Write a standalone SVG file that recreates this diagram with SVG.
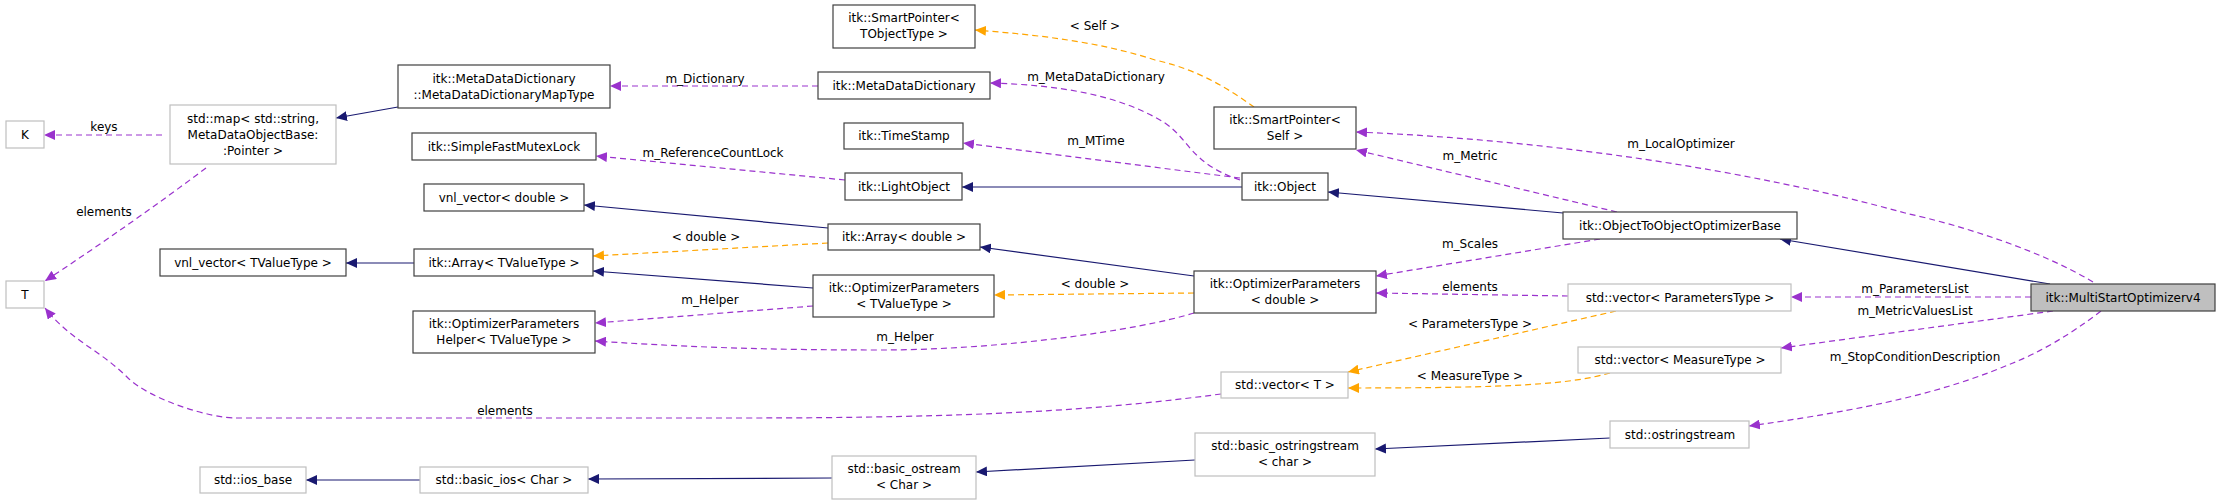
<svg xmlns="http://www.w3.org/2000/svg" width="2221" height="504" viewBox="0 0 2221 504">
<style>
text{font-family:"DejaVu Sans","Liberation Sans",sans-serif;font-size:12px;fill:#000;text-anchor:middle}
.n rect{fill:#fff;stroke:#404040;stroke-width:1.2}
.g rect{fill:#fff;stroke:#bfbfbf;stroke-width:1.2}
.hl rect{fill:#bfbfbf;stroke:#404040;stroke-width:1.2}
.inh{fill:none;stroke:#191970;stroke-width:1.2}
.use{fill:none;stroke:#9a32cd;stroke-width:1.2;stroke-dasharray:6,4}
.tpl{fill:none;stroke:#ffa500;stroke-width:1.2;stroke-dasharray:6,4}
</style>
<defs>
<marker id="ab" markerUnits="userSpaceOnUse" markerWidth="12" markerHeight="10" refX="11" refY="5" orient="auto"><path d="M0,0L11,5L0,10z" fill="#191970"/></marker>
<marker id="ap" markerUnits="userSpaceOnUse" markerWidth="12" markerHeight="10" refX="11" refY="5" orient="auto"><path d="M0,0L11,5L0,10z" fill="#9a32cd"/></marker>
<marker id="ao" markerUnits="userSpaceOnUse" markerWidth="12" markerHeight="10" refX="11" refY="5" orient="auto"><path d="M0,0L11,5L0,10z" fill="#ffa500"/></marker>
</defs>
<g id="edges">
<path class="inh" marker-end="url(#ab)" d="M398,107L336,118"/>
<path class="use" marker-end="url(#ap)" d="M162,135L44,135"/><text x="104" y="131">keys</text>
<path class="use" marker-end="url(#ap)" d="M206,168Q130,225 45,281"/><text x="104" y="216">elements</text>
<path class="use" marker-end="url(#ap)" d="M818,86L610,86"/><text x="705" y="83">m_Dictionary</text>
<path class="use" marker-end="url(#ap)" d="M1240,180C1190,163 1190,140 1165,123C1120,95 1060,85 990,83"/><text x="1096" y="81">m_MetaDataDictionary</text>
<path class="use" marker-end="url(#ap)" d="M1240,178L963,143"/><text x="1096" y="145">m_MTime</text>
<path class="use" marker-end="url(#ap)" d="M845,180L596,156"/><text x="713" y="157">m_ReferenceCountLock</text>
<path class="inh" marker-end="url(#ab)" d="M1242,187L962,187"/>
<path class="inh" marker-end="url(#ab)" d="M1563,213L1328,192"/>
<path class="use" marker-end="url(#ap)" d="M1617,212L1356,150"/><text x="1470" y="160">m_Metric</text>
<path class="use" marker-end="url(#ap)" d="M2093,282C2040,250 1960,225 1905,213C1750,170 1550,140 1356,132"/><text x="1681" y="148">m_LocalOptimizer</text>
<path class="tpl" marker-end="url(#ao)" d="M1254,107C1230,90 1200,70 1155,60C1100,42 1040,35 975,30"/><text x="1095" y="30">&lt; Self &gt;</text>
<path class="inh" marker-end="url(#ab)" d="M828,228L584,205"/>
<path class="tpl" marker-end="url(#ao)" d="M828,243L593,256"/><text x="706" y="241">&lt; double &gt;</text>
<path class="inh" marker-end="url(#ab)" d="M414,263L346,263"/>
<path class="inh" marker-end="url(#ab)" d="M813,288L593,271"/>
<path class="use" marker-end="url(#ap)" d="M813,306L595,323"/><text x="710" y="304">m_Helper</text>
<path class="use" marker-end="url(#ap)" d="M1194,313C1140,330 1000,350 882,350C780,350 700,348 595,341"/><text x="905" y="341">m_Helper</text>
<path class="inh" marker-end="url(#ab)" d="M1194,276L980,247"/>
<path class="tpl" marker-end="url(#ao)" d="M1194,293L994,295"/><text x="1095" y="288">&lt; double &gt;</text>
<path class="use" marker-end="url(#ap)" d="M1600,239L1376,276"/><text x="1470" y="248">m_Scales</text>
<path class="use" marker-end="url(#ap)" d="M1568,296L1376,293"/><text x="1470" y="291">elements</text>
<path class="tpl" marker-end="url(#ao)" d="M1616,311L1348,372"/><text x="1470" y="328">&lt; ParametersType &gt;</text>
<path class="tpl" marker-end="url(#ao)" d="M1610,373C1570,384 1520,388 1348,388"/><text x="1470" y="380">&lt; MeasureType &gt;</text>
<path class="use" marker-end="url(#ap)" d="M1221,394C1100,410 980,418 740,418L236,418C210,418 150,400 127,377C100,350 70,340 45,308"/><text x="505" y="415">elements</text>
<path class="use" marker-end="url(#ap)" d="M2031,297L1791,297"/><text x="1915" y="293">m_ParametersList</text>
<path class="use" marker-end="url(#ap)" d="M2053,311L1781,348"/><text x="1915" y="315">m_MetricValuesList</text>
<path class="use" marker-end="url(#ap)" d="M2101,311C2070,335 2040,352 2013,363C1960,385 1900,405 1749,426"/><text x="1915" y="361">m_StopConditionDescription</text>
<path class="inh" marker-end="url(#ab)" d="M2050,284L1780,239"/>
<path class="inh" marker-end="url(#ab)" d="M1610,438L1375,449"/>
<path class="inh" marker-end="url(#ab)" d="M1195,460L976,472"/>
<path class="inh" marker-end="url(#ab)" d="M832,478L588,479"/>
<path class="inh" marker-end="url(#ab)" d="M420,480L306,480"/>
</g>
<g id="K" class="g"><rect x="6" y="121" width="38" height="27"/><text x="25" y="139">K</text></g>
<g id="T" class="g"><rect x="6" y="281" width="38" height="27"/><text x="25" y="299">T</text></g>
<g id="stdmap" class="g"><rect x="170" y="105" width="166" height="59"/><text x="253" y="123">std::map&lt; std::string,</text><text x="253" y="139">MetaDataObjectBase:</text><text x="253" y="155">:Pointer &gt;</text></g>
<g id="maptype" class="n"><rect x="398" y="65" width="212" height="43"/><text x="504" y="83">itk::MetaDataDictionary</text><text x="504" y="99">::MetaDataDictionaryMapType</text></g>
<g id="mutex" class="n"><rect x="412" y="133" width="184" height="27"/><text x="504" y="151">itk::SimpleFastMutexLock</text></g>
<g id="vnld" class="n"><rect x="424" y="184" width="160" height="27"/><text x="504" y="202">vnl_vector&lt; double &gt;</text></g>
<g id="vnlt" class="n"><rect x="160" y="249" width="186" height="27"/><text x="253" y="267">vnl_vector&lt; TValueType &gt;</text></g>
<g id="arrt" class="n"><rect x="414" y="249" width="179" height="27"/><text x="504" y="267">itk::Array&lt; TValueType &gt;</text></g>
<g id="helper" class="n"><rect x="413" y="311" width="182" height="42"/><text x="504" y="328">itk::OptimizerParameters</text><text x="504" y="344">Helper&lt; TValueType &gt;</text></g>
<g id="iosbase" class="g"><rect x="200" y="467" width="106" height="26"/><text x="253" y="484">std::ios_base</text></g>
<g id="basicios" class="g"><rect x="420" y="467" width="168" height="26"/><text x="504" y="484">std::basic_ios&lt; Char &gt;</text></g>
<g id="spto" class="n"><rect x="833" y="5" width="142" height="43"/><text x="904" y="22">itk::SmartPointer&lt;</text><text x="904" y="38">TObjectType &gt;</text></g>
<g id="mdd" class="n"><rect x="818" y="72" width="172" height="27"/><text x="904" y="90">itk::MetaDataDictionary</text></g>
<g id="ts" class="n"><rect x="844" y="123" width="119" height="26"/><text x="904" y="140">itk::TimeStamp</text></g>
<g id="lo" class="n"><rect x="845" y="173" width="117" height="27"/><text x="904" y="191">itk::LightObject</text></g>
<g id="arrd" class="n"><rect x="828" y="224" width="152" height="26"/><text x="904" y="241">itk::Array&lt; double &gt;</text></g>
<g id="opt" class="n"><rect x="813" y="275" width="181" height="42"/><text x="904" y="292">itk::OptimizerParameters</text><text x="904" y="308">&lt; TValueType &gt;</text></g>
<g id="basicostream" class="g"><rect x="832" y="456" width="144" height="43"/><text x="904" y="473">std::basic_ostream</text><text x="904" y="489">&lt; Char &gt;</text></g>
<g id="sps" class="n"><rect x="1214" y="107" width="142" height="42"/><text x="1285" y="124">itk::SmartPointer&lt;</text><text x="1285" y="140">Self &gt;</text></g>
<g id="obj" class="n"><rect x="1242" y="173" width="86" height="27"/><text x="1285" y="191">itk::Object</text></g>
<g id="optd" class="n"><rect x="1194" y="271" width="182" height="42"/><text x="1285" y="288">itk::OptimizerParameters</text><text x="1285" y="304">&lt; double &gt;</text></g>
<g id="vect" class="g"><rect x="1221" y="372" width="127" height="26"/><text x="1285" y="389">std::vector&lt; T &gt;</text></g>
<g id="bostr" class="g"><rect x="1195" y="433" width="180" height="43"/><text x="1285" y="450">std::basic_ostringstream</text><text x="1285" y="466">&lt; char &gt;</text></g>
<g id="o2o" class="n"><rect x="1563" y="212" width="234" height="27"/><text x="1680" y="230">itk::ObjectToObjectOptimizerBase</text></g>
<g id="vecp" class="g"><rect x="1568" y="284" width="223" height="27"/><text x="1680" y="302">std::vector&lt; ParametersType &gt;</text></g>
<g id="vecm" class="g"><rect x="1578" y="347" width="203" height="26"/><text x="1680" y="364">std::vector&lt; MeasureType &gt;</text></g>
<g id="ostr" class="g"><rect x="1610" y="421" width="139" height="27"/><text x="1680" y="439">std::ostringstream</text></g>
<g id="ms" class="hl"><rect x="2031" y="284" width="184" height="27"/><text x="2123" y="302">itk::MultiStartOptimizerv4</text></g>
</svg>
